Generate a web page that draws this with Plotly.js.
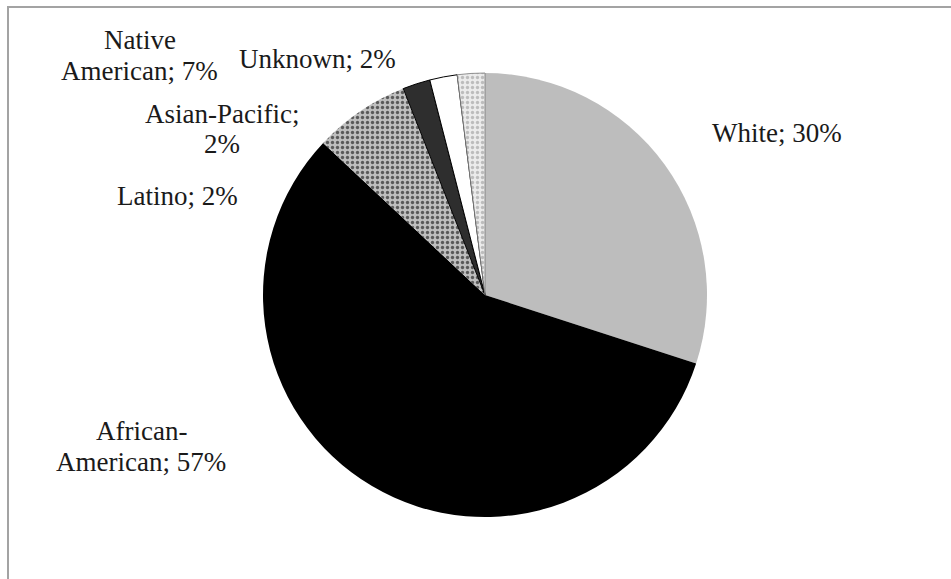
<!DOCTYPE html>
<html>
<head>
<meta charset="utf-8">
<script src="https://cdn.plot.ly/plotly-3.0.1.min.js"></script>
<style>html,body{margin:0;padding:0;background:#fff;}#chart{width:951px;height:579px;}</style>
</head>
<body>
<div id="chart"></div>
<script>
// Data
var categories = ['White', 'African-American', 'Native American', 'Latino', 'Asian-Pacific', 'Unknown'];
var values = [30, 57, 7, 2, 2, 2];
// label lines as displayed (break points follow the reference)
var labelLines = [
  ['White; {v}%'],
  ['African-', 'American; {v}%'],
  ['Native', 'American; {v}%'],
  ['Latino; {v}%'],
  ['Asian-Pacific;', '{v}%'],
  ['Unknown; {v}%']
];

// Styling / layout
var W = 951, H = 579;
var sliceColors = ['#bdbdbd', '#000000', '#a9a9a9', '#2e2e2e', '#ffffff', '#e2e2e2'];
var patternShapes = ['', '', '.', '', '', '.'];
var labelPos = [ // pixel centers of each line
  [[777, 133]],
  [[141, 431], [141, 462]],
  [[140, 40], [139, 71]],
  [[177, 196]],
  [[222, 114], [222, 144]],
  [[317, 59]]
];

var annotations = [];
categories.forEach(function (c, i) {
  labelLines[i].forEach(function (ln, j) {
    var p = labelPos[i][j];
    annotations.push({
      text: ln.replace('{v}', values[i]),
      xref: 'paper', yref: 'paper',
      x: p[0] / W, y: 1 - p[1] / H,
      xanchor: 'center', yanchor: 'middle',
      showarrow: false,
      font: {family: '"Liberation Serif", "Times New Roman", serif', size: 27, color: '#1a1a1a'}
    });
  });
});

var cx = 485, cy = 295, r = 222;
var trace = {
  type: 'pie',
  labels: categories,
  values: values,
  sort: false,
  direction: 'clockwise',
  rotation: 0,
  textinfo: 'none',
  hoverinfo: 'none',
  domain: {x: [(cx - r) / W, (cx + r) / W], y: [1 - (cy + r) / H, 1 - (cy - r) / H]},
  marker: {
    colors: sliceColors,
    line: {color: ['#000', '#000', '#000', '#000', '#000', '#777'], width: [0, 0, 0, 1, 1, 0.8]},
    pattern: {shape: patternShapes, fgcolor: ['#000', '#000', '#5a5a5a', '#000', '#000', '#bcbcbc'],
              bgcolor: ['#bdbdbd', '#000', '#bfbfbf', '#2e2e2e', '#fff', '#ebebeb'], size: 5, solidity: 0.35}
  }
};

var layout = {
  width: W, height: H,
  margin: {l: 0, r: 0, t: 0, b: 0},
  paper_bgcolor: '#ffffff',
  showlegend: false,
  hovermode: false,
  annotations: annotations,
  shapes: [{
    type: 'rect', xref: 'paper', yref: 'paper',
    x0: 8 / W, x1: 1.02, y0: -0.02, y1: 1 - 7 / H,
    line: {color: '#a3a3a3', width: 2}
  }]
};

Plotly.newPlot('chart', [trace], layout, {displayModeBar: false, staticPlot: true});
</script>
</body>
</html>
